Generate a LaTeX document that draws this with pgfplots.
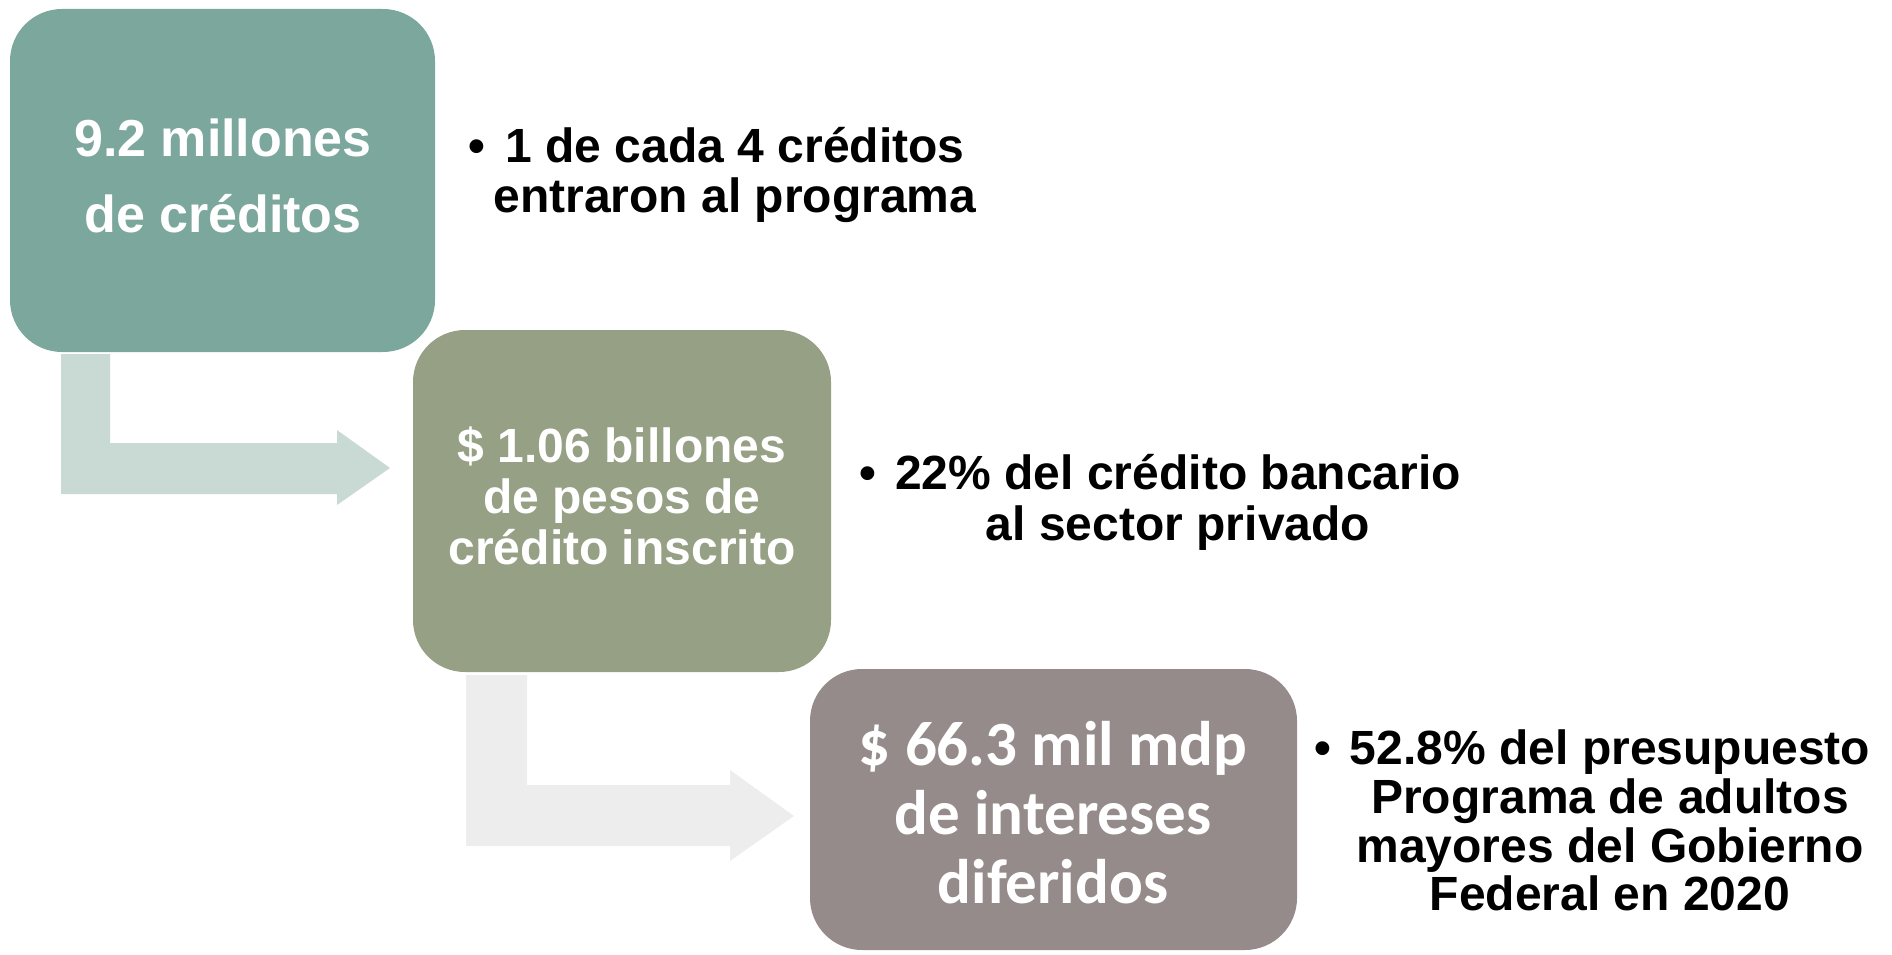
\documentclass[border=0pt]{standalone}
\usepackage{pgfplots}
\pgfplotsset{compat=1.18}
\usepackage{fontspec}
\setmainfont{Liberation Sans}
\newfontfamily\calfont{Carlito}
\definecolor{boxA}{RGB}{123,167,157}
\definecolor{boxB}{RGB}{150,160,133}
\definecolor{boxC}{RGB}{150,139,139}
\definecolor{arrA}{RGB}{201,218,213}
\definecolor{arrB}{RGB}{237,237,237}
\newcommand{\fs}[1]{\fontsize{#1}{#1}\selectfont}
\begin{document}
\begin{tikzpicture}
\begin{axis}[
  scale only axis, width=946bp, height=477.5bp,
  xmin=0, xmax=1892, ymin=0, ymax=955, y dir=reverse,
  hide axis, clip=false]
\path (axis cs:0,0) rectangle (axis cs:1892,955);
% arrows
\addplot[fill=arrA, draw=none, no markers] coordinates {
 (61,354) (110,354) (110,443) (337,443) (337,430) (390,468) (337,505) (337,494) (61,494)} -- cycle;
\addplot[fill=arrB, draw=none, no markers] coordinates {
 (466,675) (527,675) (527,785) (730,785) (730,770) (794,816) (730,861) (730,846) (466,846)} -- cycle;
% boxes
\addplot[fill=boxA, draw=none, no markers, rounded corners=26bp] coordinates {
 (10,9) (435,9) (435,352) (10,352)} -- cycle;
\addplot[fill=boxB, draw=none, no markers, rounded corners=26bp] coordinates {
 (413,330) (831,330) (831,672) (413,672)} -- cycle;
\addplot[fill=boxC, draw=none, no markers, rounded corners=26bp] coordinates {
 (810,669) (1297,669) (1297,950) (810,950)} -- cycle;
% box texts
\node[anchor=base, text=white, font=\bfseries\fs{26bp}] at (axis cs:223,157) {9.2 millones};
\node[anchor=base, text=white, font=\bfseries\fs{26bp}] at (axis cs:223,232) {de créditos};
\node[anchor=base, text=white, font=\bfseries\fs{24bp}] at (axis cs:622,462) {\$ 1.06 billones};
\node[anchor=base, text=white, font=\bfseries\fs{24bp}] at (axis cs:622,513) {de pesos de};
\node[anchor=base, text=white, font=\bfseries\fs{24bp}] at (axis cs:622,564) {crédito inscrito};
\node[anchor=base, text=white, font=\calfont\bfseries\fs{31.5bp}] at (axis cs:1053,765) {\$ 66.3 mil mdp};
\node[anchor=base, text=white, font=\calfont\bfseries\fs{31.5bp}] at (axis cs:1053,834) {de intereses};
\node[anchor=base, text=white, font=\calfont\bfseries\fs{31.5bp}] at (axis cs:1053,903) {diferidos};
% right texts
\node[anchor=base, font=\bfseries\fs{24bp}] at (axis cs:477,163) {•};
\node[anchor=base, font=\bfseries\fs{24bp}] at (axis cs:735,163) {1 de cada 4 créditos};
\node[anchor=base, font=\bfseries\fs{24bp}] at (axis cs:735,212) {entraron al programa};
\node[anchor=base, font=\bfseries\fs{24bp}] at (axis cs:868,489) {•};
\node[anchor=base, font=\bfseries\fs{24bp}] at (axis cs:1178,489) {22\% del crédito bancario};
\node[anchor=base, font=\bfseries\fs{24bp}] at (axis cs:1178,540) {al sector privado};
\node[anchor=base, font=\bfseries\fs{24bp}] at (axis cs:1323,764) {•};
\node[anchor=base, font=\bfseries\fs{24bp}] at (axis cs:1610,764) {52.8\% del presupuesto};
\node[anchor=base, font=\bfseries\fs{24bp}] at (axis cs:1610,813) {Programa de adultos};
\node[anchor=base, font=\bfseries\fs{24bp}] at (axis cs:1610,862) {mayores del Gobierno};
\node[anchor=base, font=\bfseries\fs{24bp}] at (axis cs:1610,910) {Federal en 2020};
\end{axis}
\end{tikzpicture}
\end{document}
